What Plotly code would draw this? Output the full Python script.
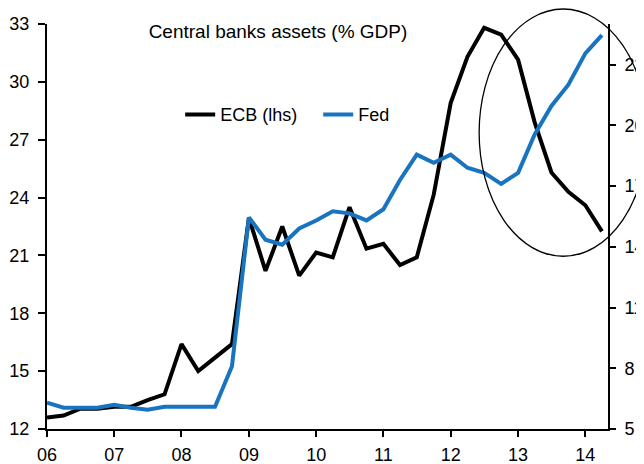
import plotly.graph_objects as go

# Quarterly dates, 2006Q1 .. 2014Q2
years = [2006, 2007, 2008, 2009, 2010, 2011, 2012, 2013, 2014]
quarter_months = ["01", "04", "07", "10"]
dates = [f"{y}-{m}-01" for y in years for m in quarter_months][:34]

# ECB assets, % GDP (left axis)
ecb = [12.6, 12.7, 13.05, 13.05, 13.15, 13.15, 13.5, 13.8,
       16.4, 15.0, 15.7, 16.4,
       22.95, 20.2, 22.5, 19.95, 21.15, 20.9, 23.5, 21.35, 21.6, 20.5, 20.9,
       24.15, 28.9, 31.3, 32.8, 32.45, 31.15, 27.9, 25.3, 24.3, 23.6, 22.25]

# Fed assets, % GDP (right axis)
fed = [6.3, 6.05, 6.05, 6.05, 6.2, 6.05, 5.95, 6.1,
       6.1, 6.1, 6.1, 8.1,
       15.45, 14.35, 14.1, 14.9, 15.3, 15.75, 15.65, 15.3, 15.85, 17.3, 18.55,
       18.15, 18.55, 17.9, 17.65, 17.1, 17.65, 19.55, 20.95, 22.0, 23.55, 24.45]

left_ticks = [12, 15, 18, 21, 24, 27, 30, 33]
right_ticks = [5, 8, 11, 14, 17, 20, 23]
year_ticks = [f"{y}-01-01" for y in years]
year_labels = ["06", "07", "08", "09", "10", "11", "12", "13", "14"]

FONT = "Liberation Sans, Arial, sans-serif"
BLUE = "#1874c1"

# the page body has an 8px default margin, so the figure is 8px smaller
W, H, OFF = 636, 456, 8

fig = go.Figure()
fig.add_trace(go.Scatter(x=dates, y=ecb, name="ECB (lhs)", mode="lines",
                         line=dict(color="black", width=4), yaxis="y"))
fig.add_trace(go.Scatter(x=dates, y=fed, name="Fed", mode="lines",
                         line=dict(color=BLUE, width=4), yaxis="y2"))

axis_common = dict(showgrid=False, zeroline=False, showline=True,
                   linecolor="black", linewidth=2, ticks="outside",
                   tickcolor="black", tickwidth=2, automargin=False,
                   tickfont=dict(family=FONT, size=18, color="black"))

fig.update_layout(
    width=W, height=H,
    margin=dict(l=39, r=36, t=16, b=35, autoexpand=False),
    paper_bgcolor="white", plot_bgcolor="white",
    font=dict(family=FONT, size=18, color="black"),
    title=dict(text="Central banks assets (% GDP)", x=(278 - OFF) / W, xref="container",
               xanchor="center", y=1 - (31 - OFF) / H, yref="container", yanchor="middle",
               font=dict(family=FONT, size=19, color="black")),
    xaxis=dict(type="date", range=["2006-01-01", "2014-05-04"],
               tickvals=year_ticks, ticktext=year_labels, ticklen=6,
               ticklabelstandoff=2, **axis_common),
    yaxis=dict(range=[12, 33], tickvals=left_ticks, ticklen=7,
               ticklabelstandoff=5, **axis_common),
    yaxis2=dict(range=[5, 25], tickvals=right_ticks, ticklen=6,
                ticklabelstandoff=5,
                overlaying="y", side="right", anchor="x", **axis_common),
    legend=dict(orientation="h", x=0.2374, xanchor="left", y=0.776, yanchor="middle",
                bgcolor="rgba(0,0,0,0)", font=dict(family=FONT, size=18, color="black"),
                itemwidth=30, entrywidth=93, entrywidthmode="pixels"),
    showlegend=True,
    shapes=[dict(type="circle", xref="paper", yref="paper",
                 x0=0.7703, x1=1.0701, y0=0.4265, y1=1.037,
                 line=dict(color="black", width=1.3))],
)

fig.write_html("out.html")
